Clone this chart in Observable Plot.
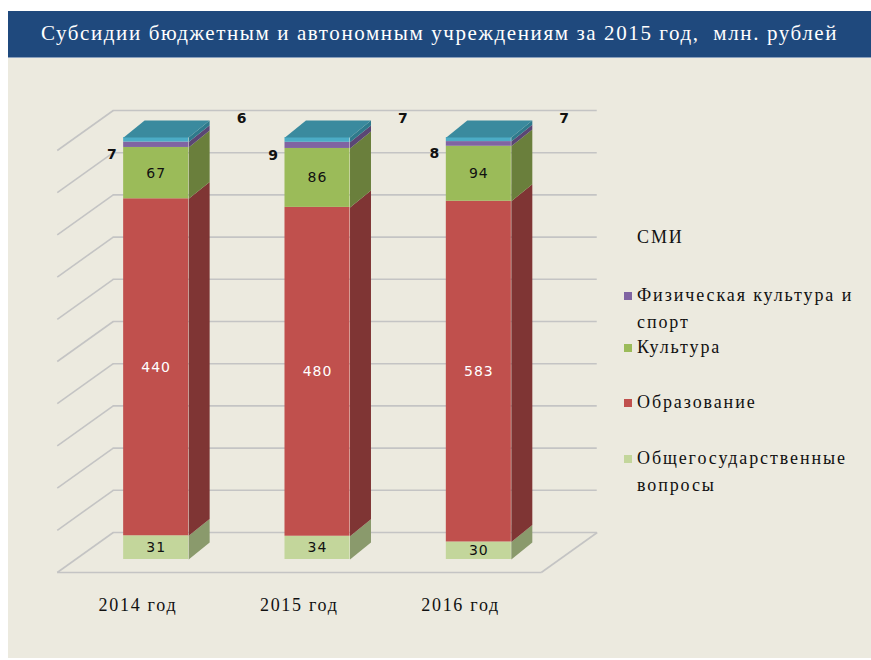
<!DOCTYPE html>
<html>
<head>
<meta charset="utf-8">
<script src="https://cdn.jsdelivr.net/npm/d3@7"></script>
<script src="https://cdn.jsdelivr.net/npm/@observablehq/plot@0.6"></script>
<style>
  body { margin: 0; background: #ffffff; }
  #wrap { position: absolute; left: 8px; top: 11px; width: 863px; height: 647px; background: #ECEADF; overflow: hidden; }
  #title { height: 47px; line-height: 45px; background: #1F497D; color: #ffffff; text-align: center; white-space: pre;
           font-family: "Liberation Serif", serif; font-size: 21px; letter-spacing: 1.6px; border-bottom: 1px solid #8aa0bd; box-sizing: border-box; }
  #chart { position: absolute; left: 0; top: 47px; }
  .leg { position: absolute; left: 616px; width: 245px; font-family: "Liberation Serif", serif; font-size: 18px;
         letter-spacing: 1.9px; color: #111; line-height: 27px; }
  .leg .sw { position: absolute; left: 0; top: 10px; width: 8px; height: 8px; }
  .leg .tx { margin-left: 13px; width: 228px; }
  .xlab text { letter-spacing: 1.7px; }
  .vlab text { letter-spacing: 1px; }
</style>
</head>
<body>
<div id="wrap">
  <div id="title">Субсидии бюджетным и автономным учреждениям за 2015 год,  млн. рублей</div>
  <div id="chart"></div>
</div>
<script>
// ---- data ----
const years = ["2014 год", "2015 год", "2016 год"];
// series, bottom to top of each stack
const seriesNames = ["Общегосударственные вопросы", "Образование", "Культура", "Физическая культура и спорт", "СМИ"];
const general   = [31, 34, 30];
const education = [440, 480, 583];
const culture   = [67, 86, 94];
const sport     = [7, 9, 8];
const media     = [6, 7, 7];

// ---- styles ----
const frontColors = ["#C3D69B", "#C0504D", "#9BBB59", "#8064A2", "#4BACC6"];
const sideColors  = ["#8A9A6C", "#7F3534", "#6A7F3C", "#5A4674", "#2F7A8C"];
const topColor = "#3A8A9E";
const gridColor = "#c4c4c4";

// ---- 3D geometry (style constants, in scale units) ----
const HW = 0.2015;           // half width of bar front
const BDX = 0.130, BDY = 4.0; // bar depth offset
const BACK_DX = 0.234, BACK_DY = 6.4;   // back wall offset from bar front plane
const FRONT_DX = -0.113, FRONT_DY = -3.08; // floor front edge offset

const valuesBySeries = [general, education, culture, sport, media];
const rows = [];
years.forEach((yr, i) => {
  const total = d3.sum(valuesBySeries, v => v[i]);
  let acc = 0;
  valuesBySeries.forEach((v, s) => {
    const lo = acc / total * 100;
    acc += v[i];
    const hi = acc / total * 100;
    rows.push({i, s, year: yr, series: seriesNames[s], value: v[i], lo, hi, c: i + 0.5});
  });
});

const levels = d3.range(0, 101, 10);

const sidePolys = [];
rows.forEach((r, k) => {
  const x0 = r.c + HW;
  sidePolys.push({id: k, s: r.s, x: x0, y: r.lo});
  sidePolys.push({id: k, s: r.s, x: x0, y: r.hi});
  sidePolys.push({id: k, s: r.s, x: x0 + BDX, y: r.hi + BDY});
  sidePolys.push({id: k, s: r.s, x: x0 + BDX, y: r.lo + BDY});
});
const topPolys = [];
rows.filter(r => r.s === seriesNames.length - 1).forEach(r => {
  topPolys.push({id: r.i, x: r.c - HW, y: r.hi});
  topPolys.push({id: r.i, x: r.c + HW, y: r.hi});
  topPolys.push({id: r.i, x: r.c + HW + BDX, y: r.hi + BDY});
  topPolys.push({id: r.i, x: r.c - HW + BDX, y: r.hi + BDY});
});

const marks = [
  // back wall gridlines
  Plot.ruleY(levels, {y: d => d + BACK_DY, x1: BACK_DX, x2: 3 + BACK_DX, stroke: gridColor, strokeWidth: 1.6}),
  // left wall diagonals
  Plot.link(levels, {x1: FRONT_DX, y1: d => d + FRONT_DY, x2: BACK_DX, y2: d => d + BACK_DY, stroke: gridColor, strokeWidth: 1.6}),
  // floor front edge and right edge
  Plot.link([0], {x1: FRONT_DX, y1: FRONT_DY, x2: 3 + FRONT_DX, y2: FRONT_DY, stroke: gridColor, strokeWidth: 1.6}),
  Plot.link([0], {x1: 3 + FRONT_DX, y1: FRONT_DY, x2: 3 + BACK_DX, y2: BACK_DY, stroke: gridColor, strokeWidth: 1.6}),
];

seriesNames.forEach((name, s) => {
  marks.push(Plot.line(sidePolys.filter(p => p.s === s), {x: "x", y: "y", z: "id", fill: sideColors[s], stroke: "none", curve: "linear-closed"}));
  marks.push(Plot.rect(rows.filter(r => r.s === s), {x1: r => r.c - HW, x2: r => r.c + HW, y1: "lo", y2: "hi", fill: frontColors[s]}));
});
marks.push(Plot.line(topPolys, {x: "x", y: "y", z: "id", fill: topColor, stroke: "none", curve: "linear-closed"}));

const labelFont = {fontFamily: "DejaVu Sans, Verdana, sans-serif", fontSize: 14, className: "vlab"};
// inside labels
marks.push(Plot.text(rows.filter(r => r.s <= 2), {x: "c", y: r => (r.lo + r.hi) / 2, text: "value",
  fill: r => r.s === 1 ? "#ffffff" : "#111111", ...labelFont}));
// sport labels (left of bar)
marks.push(Plot.text(rows.filter(r => r.s === 3), {x: r => r.c - HW, y: r => (r.lo + r.hi) / 2, text: "value",
  textAnchor: "end", dx: -6, dy: 10, fill: "#111", fontWeight: "bold", ...labelFont}));
// media labels (upper right)
marks.push(Plot.text(rows.filter(r => r.s === 4), {x: r => r.c + HW, y: r => (r.lo + r.hi) / 2, text: "value",
  textAnchor: "start", dx: 48, dy: -21, fill: "#111", fontWeight: "bold", ...labelFont}));
// category labels
marks.push(Plot.text(years, {x: (d, i) => i + 0.5 + FRONT_DX, y: FRONT_DY, text: d => d, dy: 33,
  fontFamily: "Liberation Serif, serif", fontSize: 18, fill: "#111", className: "xlab"}));

const chart = Plot.plot({
  width: 615, height: 600,
  marginLeft: 67, marginRight: 64, marginTop: 79, marginBottom: 99,
  x: {domain: [0, 3], axis: null},
  y: {domain: [0, 100], axis: null},
  style: {background: "transparent", overflow: "visible"},
  marks
});
document.getElementById("chart").appendChild(chart);

// legend (top to bottom: reverse stack order)
const legendTops = [213, 271, 323, 378, 434];
const wrap = document.getElementById("wrap");
seriesNames.slice().reverse().forEach((name, k) => {
  const s = seriesNames.length - 1 - k;
  const div = document.createElement("div");
  div.className = "leg";
  div.style.top = legendTops[k] + "px";
  const sw = document.createElement("div");
  sw.className = "sw";
  sw.style.background = frontColors[s];
  if (s === seriesNames.length - 1) sw.style.visibility = "hidden";
  const tx = document.createElement("div");
  tx.className = "tx";
  tx.textContent = name;
  div.appendChild(sw); div.appendChild(tx);
  wrap.appendChild(div);
});
</script>
</body>
</html>
